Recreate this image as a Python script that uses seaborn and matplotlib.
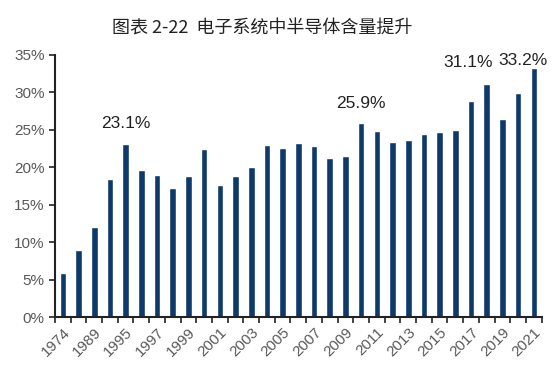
import numpy as np
import pandas as pd
import seaborn as sns
import matplotlib.pyplot as plt
from matplotlib.ticker import PercentFormatter

# 数据
years = ['1974', '1984', '1989', '1994', '1995', '1996', '1997', '1998', '1999', '2000',
         '2001', '2002', '2003', '2004', '2005', '2006', '2007', '2008', '2009', '2010',
         '2011', '2012', '2013', '2014', '2015', '2016', '2017', '2018', '2019', '2020', '2021']
share = [5.9, 9.0, 12.0, 18.5, 23.1, 19.7, 19.0, 17.3, 18.8, 22.4,
         17.6, 18.8, 20.1, 23.0, 22.6, 23.2, 22.8, 21.3, 21.5, 25.9,
         24.9, 23.4, 23.6, 24.5, 24.7, 25.0, 28.8, 31.1, 26.5, 29.9, 33.2]
# 标注: (年份, 文本, x偏移, y位置)
notes = [('1995', '23.1%', 0.0, 25.9),
         ('2010', '25.9%', 0.0, 28.5),
         ('2018', '31.1%', -1.2, 34.0),
         ('2021', '33.2%', -0.7, 34.25)]

sns.set_style('ticks')
plt.rcParams['font.family'] = ['Liberation Sans', 'DejaVu Sans']

df = pd.DataFrame({'year': years, 'share': share})

fig = plt.figure(figsize=(5.57, 3.9), dpi=100)
ax = fig.add_axes([0.0987, 0.187, 0.8738, 0.672])

sns.barplot(data=df, x='year', y='share', color='#0d3a6b', width=0.42,
            saturation=1, ax=ax)

ax.set_ylim(0, 35)
ax.set_xlim(-0.5, len(years) - 0.5)
ax.set_yticks(np.arange(0, 36, 5))
ax.yaxis.set_major_formatter(PercentFormatter(decimals=0))

# x轴: 每隔一个显示标签, 刻度线在类别边界
pos = np.arange(len(years))
ax.set_xticks(pos[::2])
ax.set_xticklabels(years[::2], rotation=45, ha='right', rotation_mode='anchor')
ax.set_xticks(np.arange(len(years) + 1) - 0.5, minor=True)
ax.tick_params(axis='x', which='major', length=0, pad=6)
ax.tick_params(axis='x', which='minor', length=4, width=1.2, color='#222222')
ax.tick_params(axis='y', length=4, width=1.2, color='#222222')
ax.tick_params(labelsize=11, labelcolor='#595959')

ax.set_xlabel('')
ax.set_ylabel('')
sns.despine(ax=ax)
for s in ['left', 'bottom']:
    ax.spines[s].set_linewidth(1.5)
    ax.spines[s].set_color('#222222')

for yr, txt, dx, yy in notes:
    ax.text(years.index(yr) + dx, yy, txt, ha='center', va='center',
            fontsize=12.5, color='#222222')

fig.suptitle('图表 2-22  电子系统中半导体含量提升', x=0.47, y=0.95, fontsize=13,
             color='#222222', family=['Noto Sans CJK SC', 'DejaVu Sans'])

fig.savefig('out.png', dpi=100)
